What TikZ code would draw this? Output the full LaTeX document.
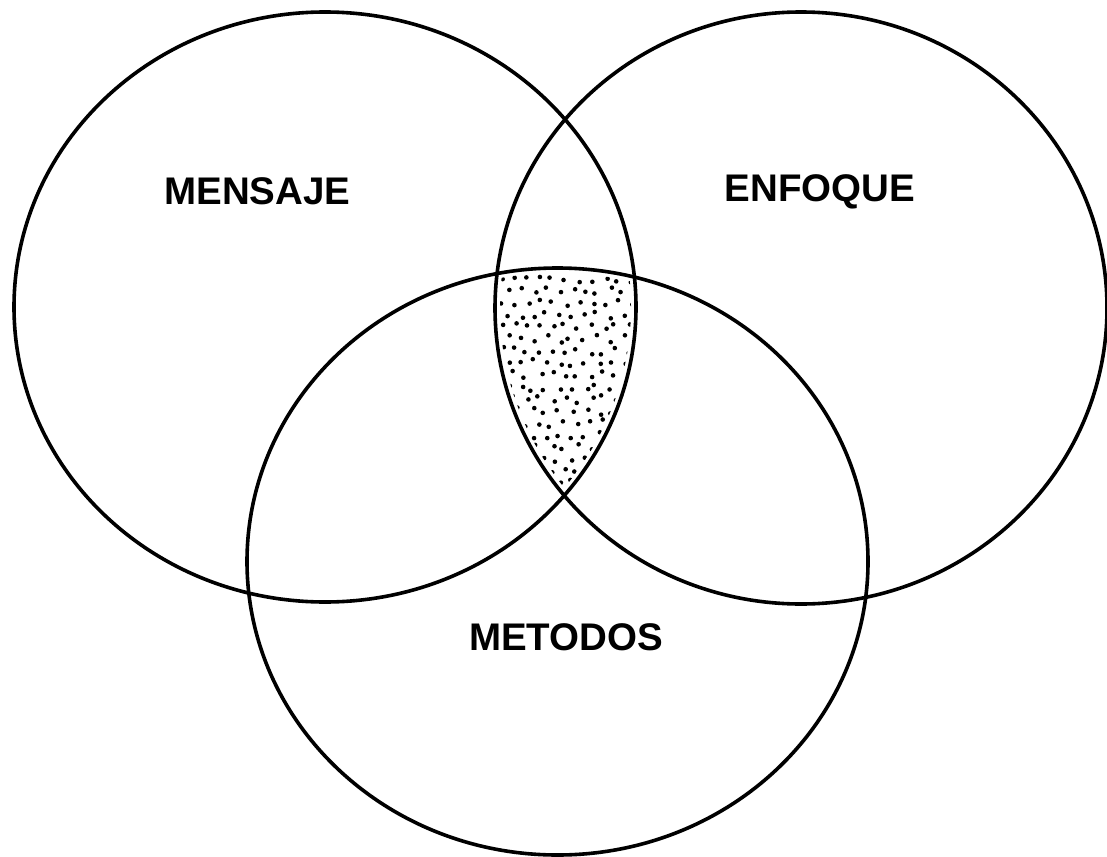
\documentclass[tikz,border=0pt]{standalone}
\usepackage{fontspec}
\setmainfont{Liberation Sans}
\begin{document}
\begin{tikzpicture}[x=1pt,y=-1pt,
  ring/.style={draw=black,line width=3.6pt},
  lbl/.style={font=\fontsize{38.5}{40}\selectfont\bfseries,inner sep=0pt},
  dot/.style={fill=black}]
\useasboundingbox (0,0) rectangle (1107,856);
\fill[white] (0,0) rectangle (1107,856);
% stipple in triple intersection
\begin{scope}
  \clip (325,307) ellipse [x radius=306pt, y radius=290pt];
  \clip (801,308) ellipse [x radius=301pt, y radius=291pt];
  \clip (557.5,561.5) ellipse [x radius=305.5pt, y radius=288.5pt];
  \pgfmathsetseed{11}
  \foreach \j in {0,...,18}{
    \foreach \i in {0,...,10}{
      \pgfmathsetmacro\px{500+\i*13+mod(\j,2)*6.5+rand*4}
      \pgfmathsetmacro\py{279+\j*12+rand*4}
      \fill[dot] (\px,\py) circle (2.3pt);
    }
  }
\end{scope}
\draw[ring] (325,307) ellipse [x radius=311pt, y radius=295pt];
\draw[ring] (801,308) ellipse [x radius=306pt, y radius=296pt];
\draw[ring] (557.5,561.5) ellipse [x radius=310.5pt, y radius=293.5pt];
\node[lbl] (mensaje) at (257.5,191.5) {MENSAJE};
\node[lbl] (enfoque) at (820,191.5) {ENFOQUE};
\node[lbl] (metodos) at (566,637.5) {METODOS};
\end{tikzpicture}
\end{document}
